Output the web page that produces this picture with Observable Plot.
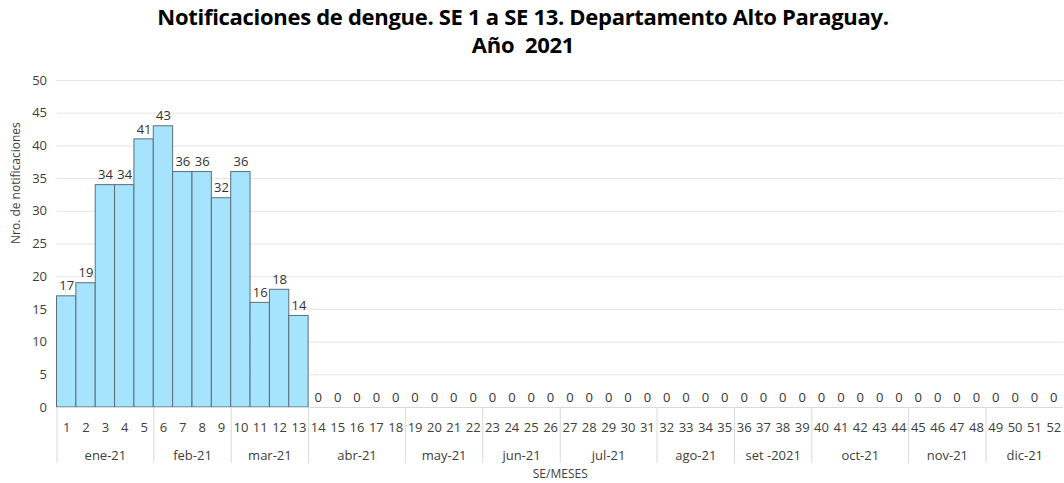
<!DOCTYPE html>
<html>
<head>
<meta charset="utf-8">
<script src="https://cdn.jsdelivr.net/npm/d3@7"></script>
<script src="https://cdn.jsdelivr.net/npm/@observablehq/plot@0.6"></script>
<style>
  body { margin: 0; background: #fff; font-family: "Open Sans", sans-serif; }
  #title { width: 1064px; height: 60px; text-align: center; font-weight: 700; font-size: 22px; line-height: 28px; color: #000; padding-top: 2px; padding-right: 18px; box-sizing: border-box; letter-spacing: -0.3px; }
  #chart svg { display: block; }
</style>
</head>
<body>
<div id="title">Notificaciones de dengue. SE 1 a SE 13. Departamento Alto Paraguay.<br>Año&nbsp; 2021</div>
<div id="chart"></div>
<script>
const semanas = d3.range(1, 53);
const notificaciones = [17, 19, 34, 34, 41, 43, 36, 36, 32, 36, 16, 18, 14,
  0, 0, 0, 0, 0, 0, 0, 0, 0, 0, 0, 0, 0, 0, 0, 0, 0, 0, 0, 0, 0, 0, 0, 0, 0, 0,
  0, 0, 0, 0, 0, 0, 0, 0, 0, 0, 0, 0, 0];
const meses = ["ene-21", "feb-21", "mar-21", "abr-21", "may-21", "jun-21", "jul-21", "ago-21", "set -2021", "oct-21", "nov-21", "dic-21"];
const mesInicio = [1, 6, 10, 14, 19, 23, 27, 32, 36, 40, 45, 49];
const mesFin = [5, 9, 13, 18, 22, 26, 31, 35, 39, 44, 48, 52];
const yTicks = d3.range(0, 51, 5);

const data = semanas.map((s, i) => ({se: s, n: notificaciones[i]}));
const mesData = meses.map((m, i) => ({mes: m, ini: mesInicio[i], fin: mesFin[i]}));

const plot = Plot.plot({
  width: 1064,
  height: 423,
  marginLeft: 56.5,
  marginRight: 1,
  marginTop: 20,
  marginBottom: 76,
  x: {type: "linear", domain: [0.5, 52.5], axis: null},
  y: {domain: [0, 50], ticks: yTicks, tickSize: 0, tickPadding: 10, label: null},
  style: {fontFamily: "'Open Sans', sans-serif", fontSize: "13px", color: "#404040", background: "#fff"},
  marks: [
    Plot.ruleY(yTicks.filter(d => d > 0), {stroke: "#e6e6e6", strokeWidth: 1}),
    Plot.rect(data, {x1: d => d.se - 0.5, x2: d => d.se + 0.5, y1: 0, y2: "n", fill: "#a5e4fc", stroke: "#5b6f78", strokeWidth: 1}),
    Plot.ruleY([0], {stroke: "#d9d9d9"}),
    Plot.text(data, {x: "se", y: "n", text: d => String(d.n), dy: -10, fill: "#333333", fontSize: 13}),
    Plot.text(semanas, {x: d => d, y: 0, text: d => String(d), dy: 20, fill: "#404040", fontSize: 13}),
    Plot.ruleX(mesInicio, {x: d => d - 0.5, stroke: "#d9d9d9", insetTop: 327, insetBottom: -56}),
    Plot.text(mesData, {x: d => (d.ini + d.fin) / 2, y: 0, text: "mes", dy: 48, fill: "#404040", fontSize: 13}),
    Plot.text(["SE/MESES"], {frameAnchor: "bottom", dy: 70, fill: "#404040", fontSize: 12}),
    Plot.text(["Nro. de notificaciones"], {frameAnchor: "left", dx: -41, rotate: -90, fill: "#404040", fontSize: 12})
  ]
});
document.getElementById("chart").appendChild(plot);
</script>
</body>
</html>
